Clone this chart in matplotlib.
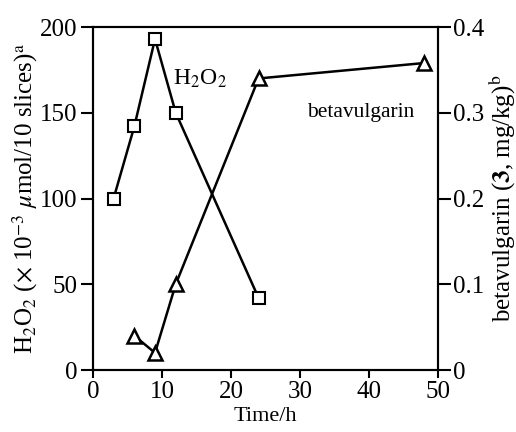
import matplotlib
matplotlib.use("Agg")
import matplotlib.pyplot as plt

plt.rcParams['font.family'] = ['Liberation Serif', 'DejaVu Serif']
plt.rcParams['mathtext.fontset'] = 'stix'

h2o2_time = [3, 6, 9, 12, 24]
h2o2_values = [100, 142, 193, 150, 42]

beta_time = [6, 9, 12, 24, 48]
beta_values = [0.04, 0.02, 0.10, 0.34, 0.358]

x_ticks = [0, 10, 20, 30, 40, 50]
left_ticks = [0, 50, 100, 150, 200]
right_ticks = [0, 0.1, 0.2, 0.3, 0.4]
right_labels = ['0', '0.1', '0.2', '0.3', '0.4']

fs = 18

fig = plt.figure(figsize=(5.16, 4.32), dpi=100)
ax = fig.add_axes([0.180, 0.1435, 0.669, 0.794])
ax2 = ax.twinx()

ax.plot(h2o2_time, h2o2_values, color='black', lw=1.8, marker='s',
        markersize=8.5, markerfacecolor='white', markeredgewidth=1.5, zorder=3)
ax2.plot(beta_time, beta_values, color='black', lw=1.8, marker='^',
         markersize=9.5, markerfacecolor='white', markeredgewidth=1.8, zorder=3)

ax.set_xlim(0, 50)
ax.set_ylim(0, 200)
ax2.set_ylim(0, 0.4)
ax.set_xticks(x_ticks)
ax.set_yticks(left_ticks)
ax2.set_yticks(right_ticks)
ax2.set_yticklabels(right_labels)

ax.tick_params(axis='y', direction='out', length=9, width=1.5, labelsize=fs, pad=2)
ax.tick_params(axis='x', direction='out', length=6, width=1.5, labelsize=fs, pad=2)
ax2.tick_params(axis='y', direction='out', length=9, width=1.5, labelsize=fs, pad=2)
for a in (ax, ax2):
    for s in a.spines.values():
        s.set_linewidth(1.5)

ax.text(11.6, 170, r'H$_2$O$_2$', fontsize=17, va='center', ha='left')
ax.text(31.0, 150, 'betavulgarin', fontsize=15.5, va='center', ha='left')

ax.set_xlabel('Time/h', fontsize=16, labelpad=3)
ax.set_ylabel(r'H$_2$O$_2$ ($\times$ 10$^{-3}$ $\mu$mol/10 slices)$^{\mathrm{a}}$', fontsize=fs, labelpad=0)
ax2.set_ylabel(r'betavulgarin ($\mathbf{3}$, mg/kg)$^{\mathrm{b}}$', fontsize=fs, labelpad=1)

fig.savefig('out.png', dpi=100)
